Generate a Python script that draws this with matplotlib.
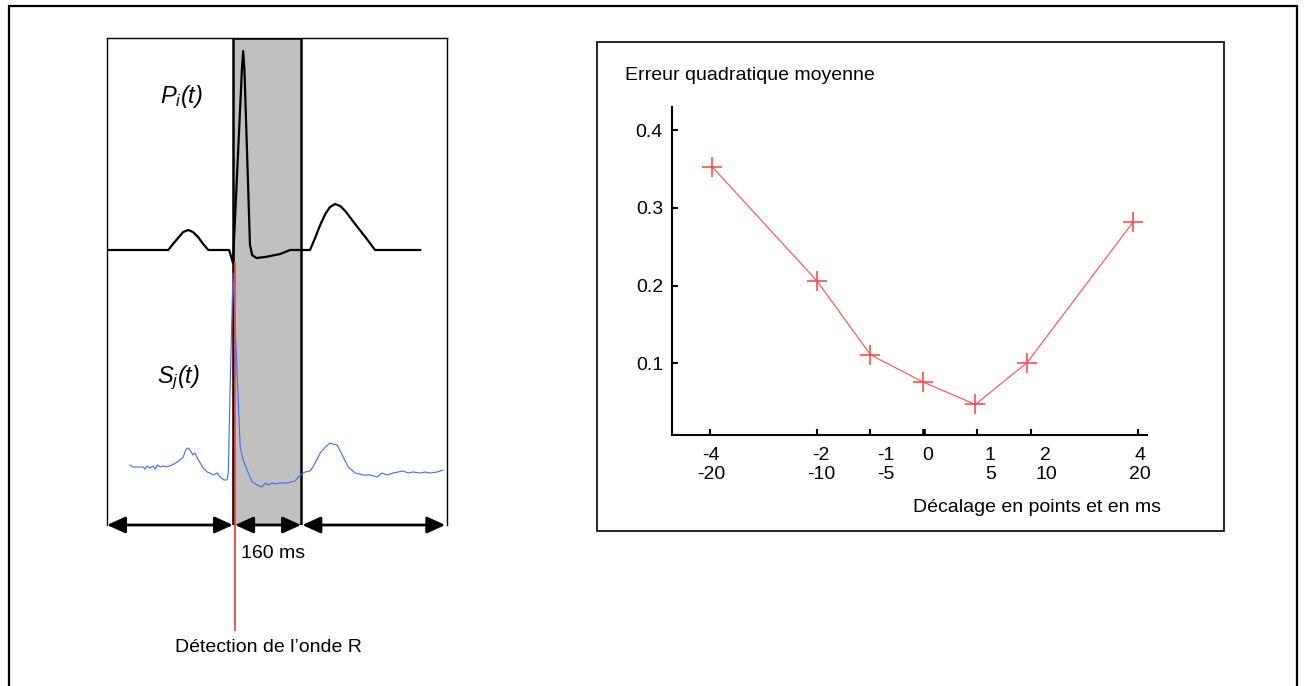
import numpy as np
import matplotlib
matplotlib.use("Agg")
import matplotlib.pyplot as plt
from matplotlib.patches import Rectangle
from matplotlib.transforms import ScaledTranslation

plt.rcParams['font.family'] = ['Liberation Sans', 'DejaVu Sans']
plt.rcParams['mathtext.fontset'] = 'custom'
plt.rcParams['mathtext.it'] = 'Liberation Sans:italic'
plt.rcParams['mathtext.rm'] = 'Liberation Sans:italic'

# --- signal moyen P_i(t) : temps en ms (0 = détection de l'onde R), amplitude arbitraire ---
p_t = [-301, -157, -146, -134, -122, -110, -99, -87, -75, -63,
       -14, -5, 16, 19, 22, 35, 40, 50, 71, 106,
       129, 176, 188, 200, 212, 223, 235, 247, 259, 282,
       306, 329, 435]
p_amp = [0, 0, 0.06, 0.12, 0.18, 0.20, 0.18, 0.13, 0.06, 0,
         0, -0.13, 1.80, 1.99, 1.80, 0.05, -0.05, -0.08, -0.07, -0.04,
         0, 0, 0.12, 0.25, 0.36, 0.43, 0.46, 0.44, 0.39, 0.26,
         0.13, 0, 0]

# --- battement S_j(t) ---
s_t = [-247, -240, -230, -223, -216, -212, -207, -200, -193, -188,
       -183, -176, -169, -160, -148, -136, -129, -122, -115, -110,
       -103, -99, -94, -89, -82, -75, -66, -59, -52, -42,
       -35, -26, -19, -16, -12, -5, 12, 19, 31, 40,
       52, 63, 71, 78, 87, 94, 106, 122, 141, 153,
       165, 176, 183, 200, 212, 223, 230, 240, 254, 266,
       282, 301, 317, 334, 345, 357, 371, 383, 395, 407,
       418, 435, 446, 458, 475, 489]
s_amp = [0.02, 0.00, 0.00, 0.00, 0.00, -0.02, 0.01, -0.01, 0.01, -0.02,
         0.02, 0.00, 0.01, 0.00, 0.02, 0.05, 0.07, 0.10, 0.18, 0.19,
         0.15, 0.12, 0.14, 0.09, 0.04, -0.01, -0.05, -0.06, -0.08, -0.06,
         -0.10, -0.13, -0.13, -0.06, 0.74, 1.94, 0.20, 0.07, -0.06, -0.15,
         -0.18, -0.20, -0.16, -0.18, -0.16, -0.17, -0.16, -0.16, -0.14, -0.08,
         -0.05, -0.04, 0.00, 0.14, 0.20, 0.24, 0.23, 0.22, 0.10, 0.00,
         -0.06, -0.08, -0.08, -0.10, -0.06, -0.08, -0.06, -0.05, -0.04, -0.06,
         -0.05, -0.06, -0.05, -0.06, -0.05, -0.03]

r_detect_ms = 0
fenetre_ms = (-5, 155)   # fenêtre de 160 ms

# --- erreur quadratique moyenne selon le décalage ---
decal_pts = [-4, -2, -1, 0, 1, 2, 4]
decal_ms = ['-20', '-10', '-5', '', '5', '10', '20']
err_x = [-3.96, -2.0, -1.0, -0.02, 0.96, 1.93, 3.91]
err_y = [0.353, 0.206, 0.111, 0.076, 0.047, 0.101, 0.282]
y_ticks = [0.1, 0.2, 0.3, 0.4]

W, H = 1304, 686


def fx(px):
    return px / W


def fy(py):
    return 1 - py / H


fig = plt.figure(figsize=(W / 100, H / 100), dpi=100)
fig.patch.set_facecolor('white')

# cadre extérieur
fig.patches.append(Rectangle((fx(9), fy(700)), fx(1297) - fx(9), fy(6) - fy(700),
                             transform=fig.transFigure, fill=False, lw=1.6, ec='black'))
# cadre du graphique de droite
fig.patches.append(Rectangle((fx(597), fy(531)), fx(1224) - fx(597), fy(42) - fy(531),
                             transform=fig.transFigure, fill=False, lw=1.2, ec='black'))

# ---------------- partie gauche : signaux ECG ----------------
ax = fig.add_axes([fx(107), fy(525), (447 - 107) / W, (525 - 38) / H])
ax.set_xlim(-301, 498)
ax.set_ylim(0, 4.87)
p_base, s_base = 2.75, 0.58
ax.axvspan(fenetre_ms[0], fenetre_ms[1], facecolor='#c0c0c0', edgecolor='black', lw=1.8, zorder=1)
ax.plot(p_t, p_base + np.array(p_amp), color='black', lw=1.6, zorder=3)
ax.plot(s_t, s_base + np.array(s_amp), color='#3d6bff', lw=0.8, zorder=3)
ax.plot([r_detect_ms, r_detect_ms], [p_base - 0.13, -1.05], color='#ff4545', lw=1.3,
        clip_on=False, zorder=4)
for side in ['top', 'left', 'right']:
    ax.spines[side].set_linewidth(1.0)
ax.spines['bottom'].set_visible(False)
ax.set_xticks([])
ax.set_yticks([])

xl = ax.get_xlim()
fleches = [(xl[0], fenetre_ms[0]), (r_detect_ms, fenetre_ms[1]), (fenetre_ms[1] + 3, xl[1] - 4)]
for a, b in fleches:
    ax.annotate('', xy=(b, 0), xytext=(a, 0), annotation_clip=False,
                arrowprops=dict(arrowstyle='<|-|>,head_length=1.1,head_width=0.5',
                                mutation_scale=10, color='black', lw=2,
                                shrinkA=0, shrinkB=0))

fig.text(fx(160), fy(96), r'$P_i(t)$', fontsize=17, ha='left', va='center')
fig.text(fx(157), fy(378), r'$S_j(t)$', fontsize=17, ha='left', va='center')
fig.text(fx(241), fy(553), '160 ms', fontsize=14, ha='left', va='center')
fig.text(fx(268), fy(647), 'Détection de l\u2019onde R', fontsize=14, ha='center', va='center')

# ---------------- partie droite : erreur ----------------
ax2 = fig.add_axes([fx(672), fy(435), (1147 - 672) / W, (435 - 107) / H])
ax2.set_xlim(-4.71, 4.17)
ax2.set_ylim(0.0077, 0.430)
ax2.plot(err_x, err_y, color='#ff4d4d', lw=0.8, marker='+', markersize=14, mew=1.2)
for side in ['top', 'right']:
    ax2.spines[side].set_visible(False)
for side in ['left', 'bottom']:
    ax2.spines[side].set_linewidth(1.5)
ax2.set_yticks(y_ticks)
ax2.set_yticklabels([f'{v:.1f}' for v in y_ticks])
labels = [f'{p}\n{m}' if m else f'{p}' for p, m in zip(decal_pts, decal_ms)]
ax2.set_xticks(decal_pts)
ax2.set_xticklabels(labels)
ax2.tick_params(axis='both', direction='in', length=4.5, width=1.5, labelsize=14)
ax2.tick_params(axis='y', pad=6.5)
ax2.tick_params(axis='x', pad=9)
decal_lbl_px = [1, 4, 15, 4, 13, 15, 2]
for lbl, dx in zip(ax2.get_xticklabels(), decal_lbl_px):
    lbl.set_linespacing(1.15)
    lbl.set_transform(lbl.get_transform() + ScaledTranslation(dx / 100, 0, fig.dpi_scale_trans))
ax2.xaxis.get_major_ticks()[3].tick1line.set_markeredgewidth(2.6)

fig.text(fx(625), fy(75), 'Erreur quadratique moyenne', fontsize=14, ha='left', va='center')
fig.text(fx(1161), fy(508), 'Décalage en points et en ms', fontsize=14, ha='right', va='center')

fig.savefig('out.png', dpi=100, facecolor='white')
